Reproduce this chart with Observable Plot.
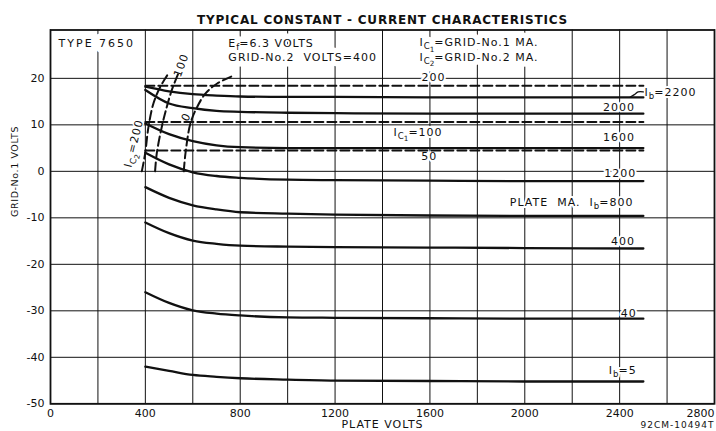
<!DOCTYPE html>
<html><head><meta charset="utf-8">
<script src="https://cdn.jsdelivr.net/npm/d3@7"></script>
<script src="https://cdn.jsdelivr.net/npm/@observablehq/plot@0.6"></script>
<style>
html,body{margin:0;padding:0;background:#fff;}
#chart svg{display:block;}
#chart svg text{letter-spacing:1px;}
#chart svg g[aria-label$="tick label"] text{letter-spacing:0;}
</style></head><body><div id="chart"></div>
<script>
// ---- axes ----
const xTicks = [0, 400, 800, 1200, 1600, 2000, 2400, 2800];
const yTicks = [-50, -40, -30, -20, -10, 0, 10, 20];
const xGrid = [0, 200, 400, 600, 800, 1000, 1200, 1400, 1600, 1800, 2000, 2200, 2400, 2600, 2800];
const yGrid = [-50, -40, -30, -20, -10, 0, 10, 20];

// ---- plate-current (Ib) curves, grid-No.1 volts vs plate volts ----
const plateV = [400, 500, 600, 700, 800, 1000, 1200, 1600, 2000, 2500];
const ibLevels = [2200, 2000, 1600, 1200, 800, 400, 40, 5];
const ib2200 = [18.2, 17.2, 16.6, 16.3, 16.1, 16.0, 16.0, 15.9, 15.9, 15.9];
const ib2000 = [17.5, 14.6, 13.6, 13.0, 12.8, 12.6, 12.5, 12.4, 12.4, 12.4];
const ib1600 = [10.3, 8.0, 6.5, 5.6, 5.2, 5.0, 5.0, 5.0, 5.0, 5.0];
const ib1200 = [4.0, 1.5, -0.2, -1.0, -1.4, -1.8, -1.9, -2.0, -2.1, -2.1];
const ib800  = [-3.4, -5.7, -7.3, -8.2, -8.8, -9.1, -9.3, -9.5, -9.6, -9.6];
const ib400  = [-11.0, -13.3, -14.9, -15.6, -16.0, -16.2, -16.3, -16.4, -16.5, -16.6];
const ib40   = [-26.0, -28.3, -29.9, -30.6, -31.0, -31.4, -31.5, -31.6, -31.7, -31.7];
const ib5    = [-42.0, -42.9, -43.8, -44.2, -44.5, -44.8, -45.0, -45.1, -45.2, -45.2];
const ibCurves = [ib2200, ib2000, ib1600, ib1200, ib800, ib400, ib40, ib5];

// ---- grid-No.1 current (Ic1) lines ----
const ic1Levels = [200, 100, 50];
const ic1Span = [400, 2500];
const ic1Volts = [18.4, 10.6, 4.5];

// ---- grid-No.2 current (Ic2) curves ----
const ic2Levels = [200, 100, 0];
const ic2_200_x = [385, 399, 413, 434, 462, 483, 494];
const ic2_200_y = [0.0, 3.8, 9.5, 14.6, 18.1, 19.9, 20.8];
const ic2_100_x = [441, 448, 469, 490, 511, 533, 541];
const ic2_100_y = [0.0, 3.8, 9.5, 13.8, 17.4, 20.3, 21.3];
const ic2_0_x = [562, 569, 590, 618, 653, 703, 773];
const ic2_0_y = [0.0, 3.8, 10.3, 13.8, 16.7, 18.9, 20.6];
const ic2X = [ic2_200_x, ic2_100_x, ic2_0_x];
const ic2Y = [ic2_200_y, ic2_100_y, ic2_0_y];

// ---- labels ----
const curveLabels = ["I_{b}=2200", "2000", "1600", "1200", "PLATE  MA.  I_{b}=800", "400", "40", "I_{b}=5"];
const curveLabelX = [2505, 2465, 2465, 2470, 2458, 2465, 2472, 2472];
const curveLabelY = [16.9, 13.7, 7.2, -0.5, -6.6, -15.0, -30.5, -42.8];
const leaderX = [2445, 2462, 2478, 2500];
const leaderY = [16.0, 16.5, 17.1, 17.1];
const ic1Labels = ["200", "I_{C}~{1}=100", "50"];
const ic1LabelX = [1615, 1550, 1597];
const ic1LabelY = [20.1, 8.45, 3.1];
const ic2Labels = ["I_{C}~{2}=200", "100", "0"];
const ic2LabelX = [351, 552, 573];
const ic2LabelY = [6.0, 22.8, 11.7];
const ic2LabelRot = [-76, -70, -62];
const headLabels = ["TYPE 7650", "E_{f}=6.3 VOLTS", "GRID-No.2  VOLTS=400", "I_{C}~{1}=GRID-No.1 MA.", "I_{C}~{2}=GRID-No.2 MA."];
const headX = [34, 750, 750, 1556, 1556];
const headY = [27.5, 27.6, 24.5, 27.7, 24.5];
const title = "TYPICAL CONSTANT - CURRENT CHARACTERISTICS";
const xLabel = "PLATE VOLTS";
const yLabel = "GRID-No.1 VOLTS";
const code = "92CM-10494T";

// ---- tables ----
const ibRows = ibLevels.flatMap((lv, i) => plateV.map((v, j) => ({ib: lv, x: v, y: ibCurves[i][j]})));
const ic1Rows = ic1Levels.flatMap((lv, i) => ic1Span.map(v => ({ic: lv, x: v, y: ic1Volts[i]})));
const ic2Rows = ic2Levels.flatMap((lv, i) => ic2X[i].map((v, j) => ({ic: lv, x: v, y: ic2Y[i][j]})));
const leaderRows = leaderX.map((v, i) => ({x: v, y: leaderY[i]}));
const cl = curveLabels.map((t, i) => ({t, x: curveLabelX[i], y: curveLabelY[i], start: i === 0}));
const clStart = cl.filter(d => d.start), clEnd = cl.filter(d => !d.start);
const l1 = ic1Labels.map((t, i) => ({t, x: ic1LabelX[i], y: ic1LabelY[i]}));
const l2 = ic2Labels.map((t, i) => ({t, x: ic2LabelX[i], y: ic2LabelY[i], r: ic2LabelRot[i]}));
const hd = headLabels.map((t, i) => ({t, x: headX[i], y: headY[i]}));

const ink = "#111";
// white halo layer + ink layer (halo drawn separately so tspans don't cover each other)
function labels(data, opts, halo) {
  return [
    Plot.text(data, {...opts, fill: "#fff", stroke: "#fff", strokeWidth: halo}),
    Plot.text(data, {...opts, fill: ink})
  ];
}

const chart = Plot.plot({
  width: 716, height: 431,
  marginLeft: 50, marginRight: 2, marginTop: 29.5, marginBottom: 27.7,
  style: {fontFamily: "'DejaVu Sans', sans-serif", fontSize: "11px", background: "#fff", color: ink},
  x: {domain: [0, 2800], ticks: xTicks, tickSize: 0, tickPadding: 5, tickFormat: d => String(d), label: null},
  y: {domain: [-50, 30.4], ticks: yTicks, tickSize: 0, tickPadding: 6, tickFormat: d => String(d), label: null},
  marks: [
    Plot.ruleX(xGrid, {stroke: ink, strokeWidth: 1}),
    Plot.ruleY(yGrid, {stroke: ink, strokeWidth: 1}),
    ...labels(hd, {x: "x", y: "y", text: "t", textAnchor: "start", fontSize: 11}, 11),
    ...labels(clStart, {x: "x", y: "y", text: "t", textAnchor: "start", fontSize: 11}, 4),
    ...labels(clEnd, {x: "x", y: "y", text: "t", textAnchor: "end", fontSize: 11}, 4),
    ...labels(l1, {x: "x", y: "y", text: "t", fontSize: 11}, 4),
    ...labels(l2, {x: "x", y: "y", text: "t", rotate: "r", fontSize: 11}, 3),
    Plot.line(ic2Rows, {x: "x", y: "y", z: "ic", curve: "catmull-rom", stroke: ink, strokeWidth: 2, strokeDasharray: "9,4"}),
    Plot.line(ic1Rows, {x: "x", y: "y", z: "ic", stroke: ink, strokeWidth: 2, strokeDasharray: "9,4"}),
    Plot.line(ibRows, {x: "x", y: "y", z: "ib", curve: "monotone-x", stroke: ink, strokeWidth: 2.3}),
    Plot.line(leaderRows, {x: "x", y: "y", curve: "catmull-rom", stroke: ink, strokeWidth: 1.2}),
    Plot.text([title], {frameAnchor: "top", dy: -14.5, fontSize: 12, fontWeight: "bold", fill: ink}),
    Plot.text([xLabel], {frameAnchor: "bottom", dy: 24.5, fontSize: 11, fill: ink}),
    Plot.text([yLabel], {frameAnchor: "left", dx: -36, rotate: -90, fontSize: 9.5, fill: ink}),
    Plot.text([code], {frameAnchor: "bottom-right", dy: 24.5, dx: 0, textAnchor: "end", fontSize: 9, fill: ink}),
    Plot.frame({stroke: ink, strokeWidth: 1.8})
  ]
});

// subscripts: _{..} first level, ~{..} second level
const NS = "http://www.w3.org/2000/svg";
const offs = [0, 3, 5.5];
chart.querySelectorAll("text").forEach(el => {
  const s = el.textContent;
  if (s === title) el.style.letterSpacing = "0.78px";
  if (s === "TYPE 7650") el.style.letterSpacing = "2px";
  if (s === yLabel) el.style.letterSpacing = "0.6px";
  if (s === "2800" && el.closest('g[aria-label="x-axis tick label"]')) el.setAttribute("text-anchor", "end");
  if (!/[_~]\{/.test(s)) return;
  const parts = s.split(/([_~]\{[^}]*\})/).filter(p => p.length);
  el.textContent = "";
  let level = 0;
  for (const p of parts) {
    let nl = 0, str = p;
    if (p.startsWith("_{")) { nl = 1; str = p.slice(2, -1); }
    else if (p.startsWith("~{")) { nl = 2; str = p.slice(2, -1); }
    const ts = document.createElementNS(NS, "tspan");
    const dy = offs[nl] - offs[level];
    if (dy) ts.setAttribute("dy", dy);
    if (nl === 1) ts.setAttribute("font-size", "0.78em");
    if (nl === 2) ts.setAttribute("font-size", "0.66em");
    if (nl) ts.style.letterSpacing = "0";
    ts.textContent = str;
    el.appendChild(ts);
    level = nl;
  }
});
document.getElementById("chart").appendChild(chart);
</script></body></html>
